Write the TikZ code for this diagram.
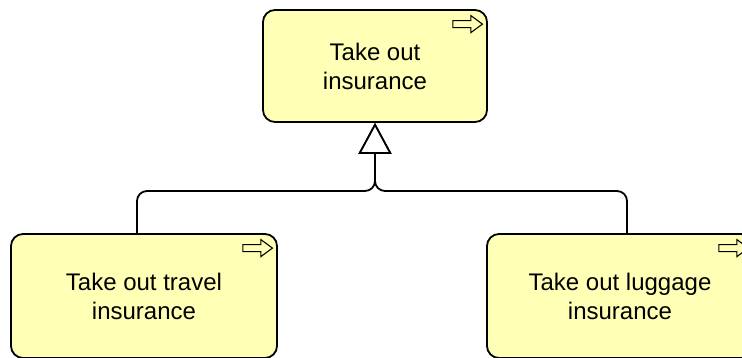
\documentclass[tikz,border=0pt]{standalone}
\usepackage{fontspec}
\setmainfont{Liberation Sans}
\usetikzlibrary{arrows.meta}
\definecolor{bizyellow}{RGB}{255,255,181}
\tikzset{
  process/.style={draw=black, line width=1.8pt, fill=bizyellow, rounded corners=12pt,
    align=center, inner sep=0pt, font=\fontsize{24}{29}\selectfont},
  icon/.style={draw=black, line width=1.1pt, fill=bizyellow, rounded corners=0pt},
  specialise/.style={line width=1.8pt, rounded corners=10pt,
    -{Triangle[open, fill=white, length=31pt, width=33pt]}}
}
\newcommand\processicon[1]{%
  \draw[icon] ([shift={(-35,11.5)}]#1.north east) -- ++(18,0) -- ++(0,-5)
    -- ++(11.5,8.5) -- ++(-11.5,8.5) -- ++(0,-5) -- ++(-18,0) -- cycle;}
\begin{document}
\begin{tikzpicture}[x=1pt,y=-1pt]
  \useasboundingbox (0,0) rectangle (742,358);
  % processes
  \node[process, minimum width=224pt, minimum height=112pt] (insurance) at (375,66) {Take out\\insurance};
  \node[process, minimum width=266pt, minimum height=124pt] (travel) at (144,296) {Take out travel\\insurance};
  \node[process, minimum width=266pt, minimum height=124pt] (luggage) at (620,296) {Take out luggage\\insurance};
  \processicon{insurance}
  \processicon{travel}
  \processicon{luggage}
  % specialisation
  \coordinate (junction) at (375,191);
  \draw[specialise] ([xshift=-7pt]travel.north) |- (junction) [rounded corners=5pt] -- (insurance.south);
  \draw[specialise] ([xshift=7pt]luggage.north) |- (junction) [rounded corners=5pt] -- (insurance.south);
\end{tikzpicture}
\end{document}
